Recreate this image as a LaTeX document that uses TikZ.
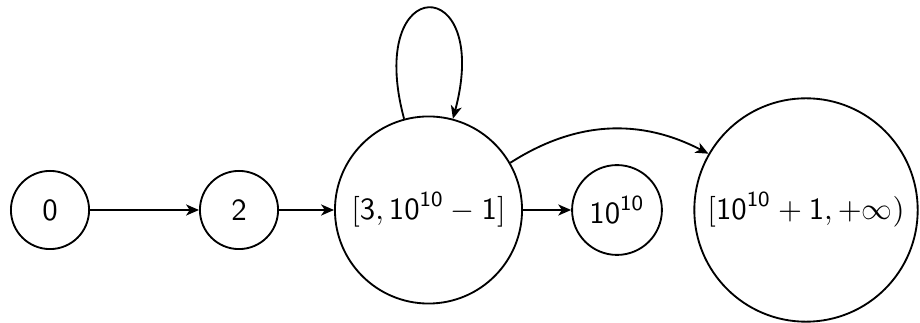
\documentclass[tikz,border=0pt]{standalone}
\usetikzlibrary{arrows.meta}
\begin{document}
\begin{tikzpicture}[x=0.325pt,y=-0.325pt,
  state/.style={draw,circle,line width=0.6pt,inner sep=0pt,font=\normalsize},
  arr/.style={line width=0.6pt,-{Stealth[length=4.2pt,width=3.6pt,inset=1.2pt]}}]
\useasboundingbox (0,0) rectangle (920,323);
\node[state,minimum size=25.4pt] (n0) at (50,210) {$\mathsf{0}$};
\node[state,minimum size=25.4pt] (n2) at (239,210) {$\mathsf{2}$};
\node[state,minimum size=60.8pt] (n3) at (428.5,210) {$[\mathsf{3}, \mathsf{10}^{\mathsf{10}} - \mathsf{1}]$};
\node[state,minimum size=29.2pt] (n4) at (617,210) {$\mathsf{10}^{\mathsf{10}}$};
\node[state,minimum size=72.6pt] (n5) at (806,210) {$[\mathsf{10}^{\mathsf{10}} + \mathsf{1}, +\infty)$};
\draw[arr] (n0) -- (n2);
\draw[arr] (n2) -- (n3);
\draw[arr] (n3) -- (n4);
\draw[arr] (n3) to[bend left=30] (n5);
\draw[arr] (n3) to[out=105,in=75,looseness=8] (n3);
\end{tikzpicture}
\end{document}
